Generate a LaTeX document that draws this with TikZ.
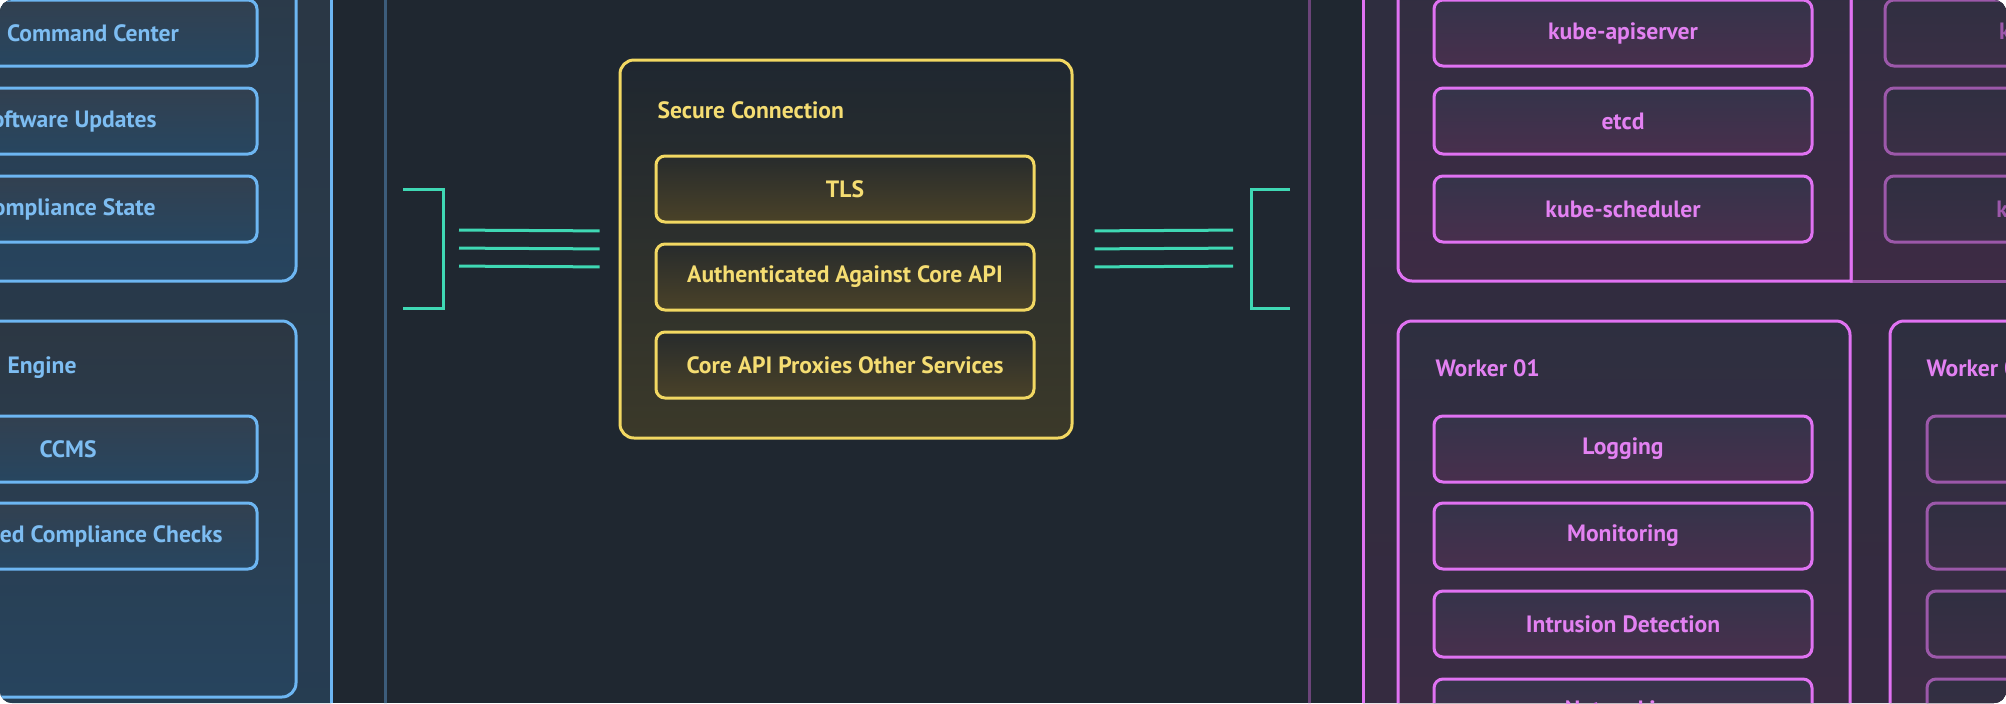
\documentclass[tikz,border=0pt]{standalone}
\usepackage{xcolor}
\usepackage{fontspec}
\setmainfont{PT Sans}
\usepackage{tikz}

\definecolor{PageBg}{HTML}{1F2730}
\definecolor{BlueLine}{HTML}{6DB6F2}
\definecolor{BlueText}{HTML}{7DBDF2}
\definecolor{BlueDim}{HTML}{3C5C7A}
\definecolor{GoldLine}{HTML}{F2D862}
\definecolor{GoldText}{HTML}{F5DD72}
\definecolor{Teal}{HTML}{3FD8B4}
\definecolor{PinkLine}{HTML}{E072F2}
\definecolor{PinkText}{HTML}{E381F2}
\definecolor{PinkMuted}{HTML}{9C58AA}
\definecolor{PinkDim}{HTML}{6B4479}

\tikzset{
  BaseNode/.style = {align=center, inner sep=0pt, text centered, line width=1.5pt,
                     font=\bfseries\fontsize{11.8pt}{13pt}\selectfont},
  ItemNode/.style = {BaseNode, rectangle, rounded corners=4.5pt, minimum width=189pt, minimum height=33pt},
  BlueItem/.style = {ItemNode, draw=BlueLine, text=BlueText, top color=BlueTop, bottom color=BlueBot},
  GoldItem/.style = {ItemNode, draw=GoldLine, text=GoldText, top color=GoldTop, bottom color=GoldBot},
  PinkItem/.style = {ItemNode, draw=PinkLine, text=PinkText, top color=PinkTop, bottom color=PinkBot},
  MutedItem/.style = {ItemNode, draw=PinkMuted, text=PinkMuted, top color=MuteTop, bottom color=MuteBot},
  GroupNode/.style = {BaseNode, rectangle, rounded corners=7pt, minimum width=226pt, minimum height=188pt},
  BlueGroup/.style = {GroupNode, draw=BlueLine, top color=BlueGrpTop, bottom color=BlueGrpBot},
  GoldGroup/.style = {GroupNode, draw=GoldLine, top color=PageBg, bottom color=GoldGrpBot},
  PinkGroup/.style = {GroupNode, draw=PinkLine, top color=PinkGrpTop, bottom color=PinkGrpBot},
  TitleNode/.style = {BaseNode, anchor=west},
  Link/.style = {draw=Teal, line width=1.5pt},
}
\definecolor{BlueTop}{HTML}{324050}
\definecolor{BlueBot}{HTML}{274660}
\definecolor{BlueGrpTop}{HTML}{2C3743}
\definecolor{BlueGrpBot}{HTML}{27445E}
\definecolor{GoldTop}{HTML}{272B2C}
\definecolor{GoldBot}{HTML}{4A4228}
\definecolor{GoldGrpBot}{HTML}{3B3929}
\definecolor{PinkTop}{HTML}{35344A}
\definecolor{PinkBot}{HTML}{482F4D}
\definecolor{MuteTop}{HTML}{302F41}
\definecolor{MuteBot}{HTML}{3A2F45}
\definecolor{PinkGrpTop}{HTML}{2E2F40}
\definecolor{PinkGrpBot}{HTML}{3D2B44}

\begin{document}
\begin{tikzpicture}[x=0.5pt, y=-0.5pt]
    \useasboundingbox (0,0) rectangle (2006,703);
    \clip[rounded corners=6pt] (0,0) rectangle (2006,703);
    \fill[PageBg] (0,0) rectangle (2006,703);

    % side panels and lanes
    \draw[BlueLine, line width=1.5pt, top color=BlueGrpTop!90!PageBg, bottom color=BlueGrpBot!80!PageBg] (-400,-200) rectangle (331,900);
    \draw[BlueDim, line width=1.5pt] (385,-20) -- (385,723);
    \draw[PinkDim, line width=1.5pt] (1309,-20) -- (1309,723);
    \draw[PinkLine, line width=1.5pt, top color=PinkGrpTop!90!PageBg, bottom color=PinkGrpBot!80!PageBg] (1363,-200) rectangle (2600,900);

    % left side
    \node[BlueGroup] (hub) at (70,93) {};
    \node[BlueItem] (cmd) at (68,33) {\hspace*{25pt}Command Center};
    \node[BlueItem] (upd) at (68,121) {Software Updates};
    \node[BlueItem] (state) at (68,209) {Compliance State};

    \node[BlueGroup] (engine) at (70,509) {};
    \node[TitleNode, text=BlueText] (engTitle) at (6,368) {Engine};
    \node[BlueItem] (ccms) at (68,449) {CCMS};
    \node[BlueItem] (checks) at (68,536) {Automated Compliance Checks};

    % secure connection
    \node[GoldGroup, minimum height=189pt] (sec) at (846,249) {};
    \node[TitleNode, text=GoldText] (secTitle) at (656,110) {Secure Connection};
    \node[GoldItem] (tls) at (845,189) {TLS};
    \node[GoldItem] (auth) at (845,277) {Authenticated Against Core API};
    \node[GoldItem] (proxy) at (845,365) {Core API Proxies Other Services};

    % control plane
    \draw[PinkMuted, line width=1.5pt, top color=PinkGrpTop, bottom color=PinkGrpBot] (1851,-120) rectangle (2500,281);
    \draw[PinkLine, line width=1.5pt, top color=PinkGrpTop, bottom color=PinkGrpBot]
        (1851,-120) -- (1851,281) -- (1412,281) arc[start angle=90, end angle=180, radius=14] -- (1398,-120);
    \node[PinkItem] (api) at (1623,33) {kube-apiserver};
    \node[PinkItem] (etcd) at (1623,121) {etcd};
    \node[PinkItem] (sched) at (1623,209) {kube-scheduler};
    \node[MutedItem] (api2) at (2074,33) {kube-apiserver};
    \node[MutedItem] (etcd2) at (2074,121) {etcd};
    \node[MutedItem] (sched2) at (2074,209) {kube-scheduler};

    % workers
    \node[PinkGroup, minimum height=232pt] (w1) at (1624,553) {};
    \node[TitleNode, text=PinkText] (w1Title) at (1434,368) {Worker 01};
    \node[PinkItem] (log) at (1623,449) {Logging};
    \node[PinkItem] (mon) at (1623,536) {Monitoring};
    \node[PinkItem] (ids) at (1623,624) {Intrusion Detection};
    \node[PinkItem] (net) at (1623,712) {Networking};

    \node[PinkGroup, minimum height=232pt] (w2) at (2116,553) {};
    \node[TitleNode, text=PinkText] (w2Title) at (1925,368) {Worker 02};
    \foreach \y/\n in {449/a,536/b,624/c,712/d}
        \node[MutedItem] (w2\n) at (2116,\y) {};

    % brackets and links
    \coordinate (lbr) at (443,248);
    \coordinate (rbr) at (1251,248);
    \draw[Link] (403,189) -- (443,189) -- (lbr) -- (443,308) -- (403,308);
    \draw[Link] (1290,189) -- (1251,189) -- (rbr) -- (1251,308) -- (1290,308);
    \foreach \dy in {-9pt,0pt,9pt} {
        \draw[Link, shorten <=8pt, shorten >=9.5pt] ([yshift=\dy]lbr) -- ([yshift=\dy]sec.west);
        \draw[Link, shorten <=10.5pt, shorten >=9pt] ([yshift=\dy]sec.east) -- ([yshift=\dy]rbr);
    }
\end{tikzpicture}
\end{document}
